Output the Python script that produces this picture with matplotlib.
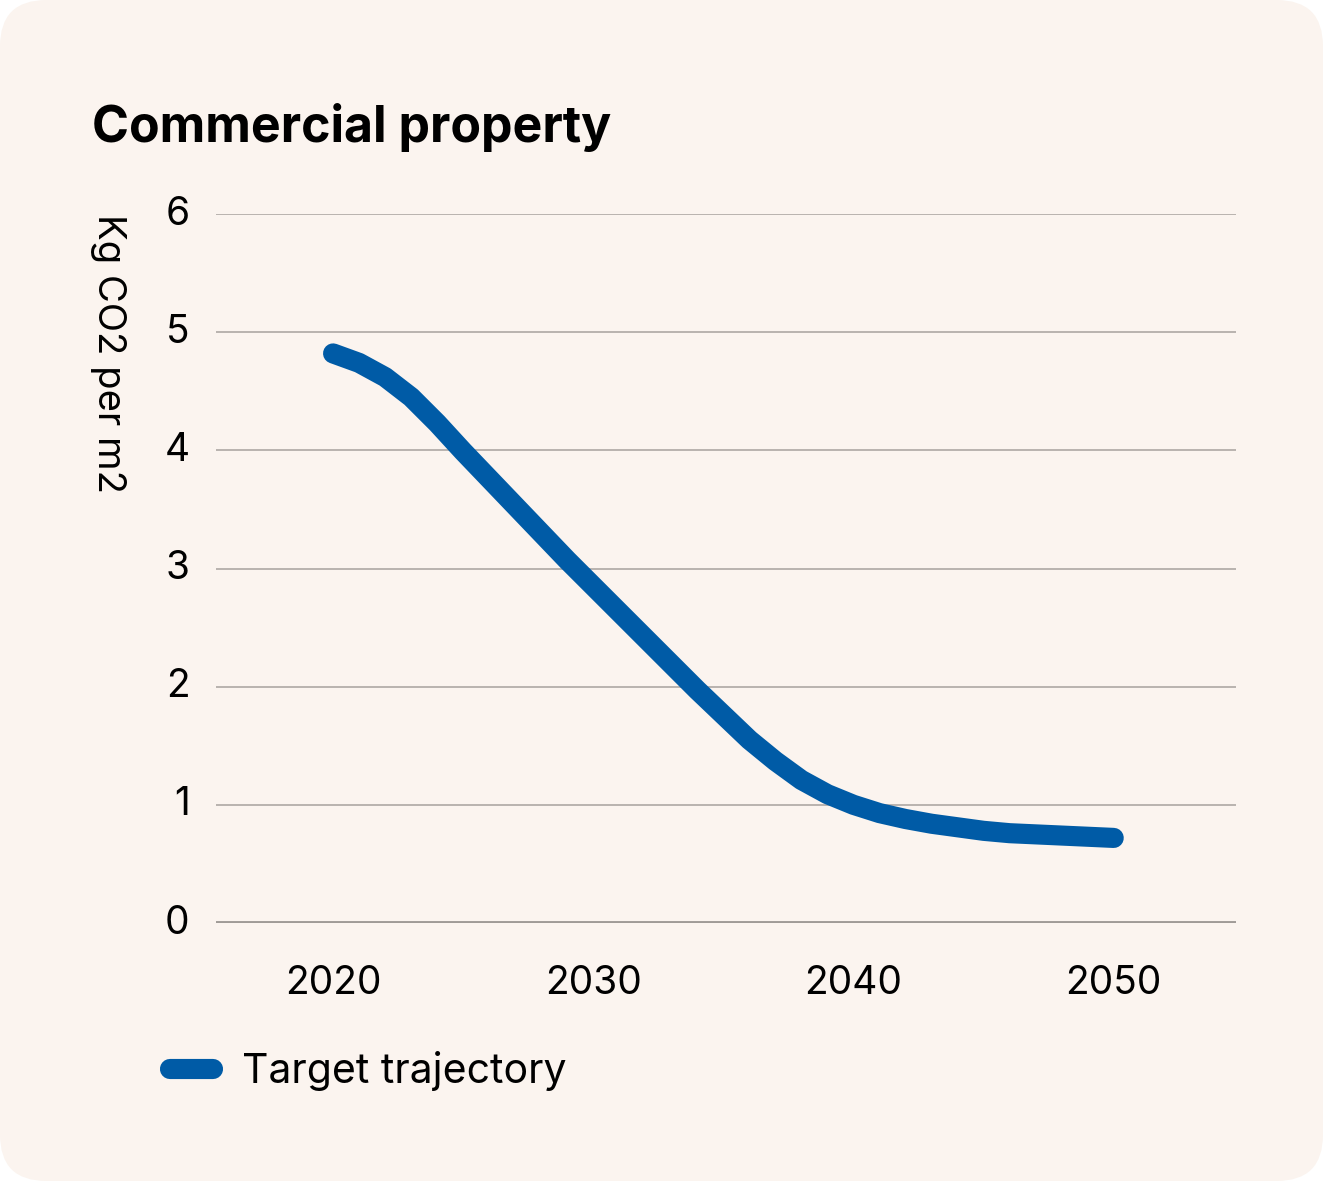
import matplotlib
matplotlib.use("Agg")
import matplotlib.pyplot as plt
from matplotlib.patches import FancyBboxPatch

# Target trajectory, kg CO2 per m2
years = list(range(2020, 2051))
target = [4.82, 4.74, 4.62, 4.45, 4.23, 3.99, 3.76, 3.53, 3.30, 3.07,
          2.85, 2.63, 2.41, 2.19, 1.97, 1.76, 1.55, 1.37, 1.21, 1.09,
          1.00, 0.93, 0.88, 0.84, 0.81, 0.78, 0.76, 0.75, 0.74, 0.73, 0.72]
x_ticks = [2020, 2030, 2040, 2050]
y_ticks = [0, 1, 2, 3, 4, 5, 6]

title = "Commercial property"
y_label = "Kg CO2 per m2"
series_name = "Target trajectory"

bg = "#fbf4ef"
blue = "#005ba6"
font = ["Inter", "DejaVu Sans"]
plt.rcParams["font.family"] = font

W, H = 1323, 1181
fig = plt.figure(figsize=(W / 100, H / 100), dpi=100)
fig.patch.set_facecolor("white")

# rounded card background
card = FancyBboxPatch((0, 0), 1, 1,
                      boxstyle="round,pad=0,rounding_size=0.035",
                      transform=fig.transFigure, facecolor=bg,
                      edgecolor="none", mutation_aspect=W / H, zorder=-5)
fig.patches.append(card)

ax = fig.add_axes([216 / W, (H - 923) / H, 1020 / W, (923 - 214) / H])
ax.set_facecolor("none")
ax.set_zorder(2)

ax.plot(years, target, color=blue, lw=14.5, solid_capstyle="round",
        solid_joinstyle="round", zorder=3, label=series_name)

ax.set_ylim(0, 6)
ax.set_xlim(2015.5, 2054.7)
ax.set_yticks(y_ticks)
ax.set_xticks(x_ticks)
ax.yaxis.grid(True, color="#b3aeaa", lw=1.3)
ax.set_axisbelow(True)
ax.axhline(0, color="#a09b97", lw=2.8, zorder=2)

for s in ax.spines.values():
    s.set_visible(False)
ax.tick_params(axis="both", length=0, labelsize=28, colors="black")
ax.tick_params(axis="y", pad=19)
ax.tick_params(axis="x", pad=30)
for lbl in ax.get_yticklabels():
    lbl.set_verticalalignment("center")

fig.text(92 / W, 1 - 128 / H, title, fontsize=36, fontweight="bold",
         va="center", ha="left")
fig.text(108 / W, 1 - 354 / H, y_label, fontsize=27.5, rotation=270,
         va="center", ha="center")

leg = fig.legend(loc="center left", bbox_to_anchor=(170 / W, 1 - 1071 / H),
                 frameon=False, fontsize=29.5, handlelength=1.05,
                 handletextpad=0.7, borderpad=0, borderaxespad=0)
for h in leg.get_lines():
    h.set_linewidth(14.5)
    h.set_solid_capstyle("round")

fig.savefig("out.png", dpi=100, facecolor=fig.get_facecolor())
